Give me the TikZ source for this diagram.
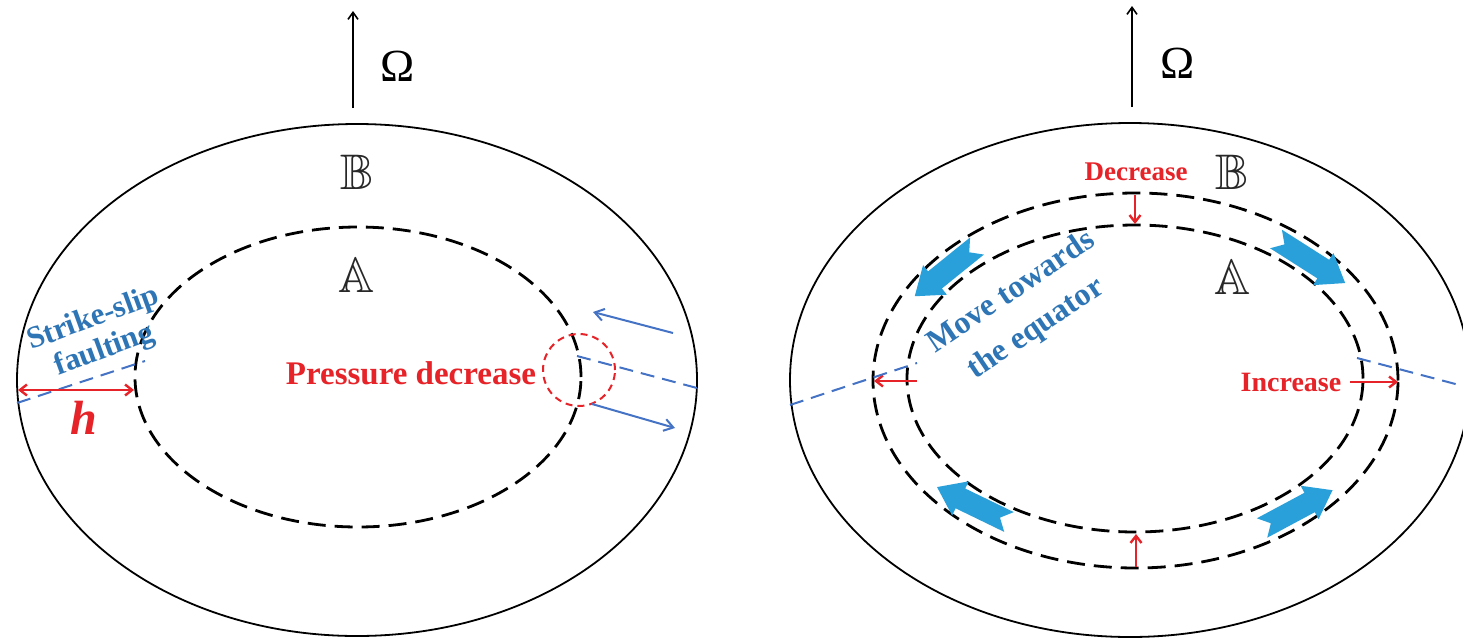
\documentclass[tikz,border=0pt]{standalone}
\usepackage{amssymb}
\usepackage{fontspec}
\setmainfont{Liberation Serif}
\usetikzlibrary{arrows.meta}

\definecolor{labelred}{RGB}{230,35,40}
\definecolor{labelblue}{RGB}{46,117,182}
\definecolor{lineblue}{RGB}{68,114,196}
\definecolor{bandblue}{RGB}{42,160,218}
\definecolor{lettergray}{RGB}{40,40,40}

% double-struck region letters
\newcommand{\regionletter}[1]{{\usefont{U}{msb}{m}{n}#1}}

% notched block arrow: tail point, direction angle, length
\newcommand{\bandarrow}[3]{%
  \fill[bandblue, shift={(#1)}, rotate=#2]
    (0,-11) -- (#3-26,-11) -- (#3-26,-19) -- (#3,0) -- (#3-26,19)
    -- (#3-26,11) -- (0,11) -- (10,0) -- cycle;}

\begin{document}
\begin{tikzpicture}[x=1pt,y=-1pt,
  shell/.style={line width=1.8pt},
  band/.style={line width=2.8pt, dash pattern=on 18pt off 9pt},
  fault/.style={lineblue, line width=2pt, dash pattern=on 14pt off 8pt},
  slip/.style={lineblue, line width=2pt, -{Straight Barb[length=9pt,width=12pt]}},
  redarrow/.style={labelred, line width=2.4pt, -{Straight Barb[length=7pt,width=11pt]}},
  axis/.style={line width=1.6pt, -{Straight Barb[length=7pt,width=10pt]}},
  redlabel/.style={text=labelred, font=\fontsize{#1}{#1}\selectfont\bfseries},
  bluelabel/.style={text=labelblue, align=center, inner sep=0pt},
  omega/.style={font=\fontsize{46}{46}\selectfont},
  region/.style={text=lettergray, font=\fontsize{50}{50}\selectfont}]
\useasboundingbox (0,0) rectangle (1463,640);

% ---------- left body ----------
\draw[shell] (357,380) ellipse [x radius=340pt, y radius=256pt];
\draw[band] (358,377) ellipse [x radius=223pt, y radius=150pt];

\coordinate (axL0) at (353,108);
\coordinate (axL1) at (353,11);
\draw[axis] (axL0) -- (axL1);
\node[omega] (omL) at (398,66) {Ω};

\node[region] (BL) at (357,172) {\regionletter{B}};
\node[region] (AL) at (357,275) {\regionletter{A}};

% strike-slip fault and width h
\coordinate (fl0) at (17,403);
\coordinate (fl1) at (145,361);
\draw[fault] (fl0) -- (fl1);
\coordinate (hL) at (18,390);
\coordinate (hR) at (134,390);
\draw[labelred, line width=2.4pt, {Straight Barb[length=7pt,width=11pt]}-{Straight Barb[length=7pt,width=11pt]}] (hL) -- (hR);
\node[text=labelred, font=\fontsize{48}{48}\selectfont\bfseries\itshape] (hlab) at (84,418) {h};
\node[bluelabel, rotate=20, font=\fontsize{31}{33}\selectfont\bfseries] (ss) at (99,335) {Strike-slip\\faulting};

% pressure decrease zone
\node[redlabel=33] (press) at (411,373) {Pressure decrease};
\draw[labelred, line width=2pt, dash pattern=on 7pt off 5pt] (579,370) circle [radius=36pt];
\coordinate (fr0) at (577,356);
\coordinate (fr1) at (697,388);
\draw[fault] (fr0) -- (fr1);
\coordinate (s1a) at (673,333);
\coordinate (s1b) at (593,312);
\coordinate (s2a) at (592,404);
\coordinate (s2b) at (675,428);
\draw[slip] (s1a) -- (s1b);
\draw[slip] (s2a) -- (s2b);

% ---------- right body ----------
\draw[shell] (1130,380) ellipse [x radius=340pt, y radius=257pt];
\draw[band] (1135.5,380.5) ellipse [x radius=262.5pt, y radius=187.5pt];
\draw[band] (1135,378.5) ellipse [x radius=228pt, y radius=153.5pt];

\coordinate (axR0) at (1132,107);
\coordinate (axR1) at (1132,6);
\draw[axis] (axR0) -- (axR1);
\node[omega] (omR) at (1178,63) {Ω};

\node[region] (BR) at (1232,172) {\regionletter{B}};
\node[region] (AR) at (1233,277) {\regionletter{A}};

% band thickness changes
\node[redlabel=27] (dec) at (1136,172) {Decrease};
\coordinate (d0) at (1135,195);
\coordinate (d1) at (1135,224);
\draw[redarrow] (d0) -- (d1);
\coordinate (u0) at (1136,567);
\coordinate (u1) at (1136,534);
\draw[redarrow] (u0) -- (u1);
\coordinate (w0) at (917,381);
\coordinate (w1) at (874,381);
\draw[redarrow] (w0) -- (w1);
\node[redlabel=28] (inc) at (1291,382) {Increase};
\coordinate (e0) at (1350,382);
\coordinate (e1) at (1398,382);
\draw[redarrow] (e0) -- (e1);

% fault traces
\coordinate (g0) at (790,405);
\coordinate (g1) at (917,363);
\draw[fault] (g0) -- (g1);
\coordinate (k0) at (1357,358);
\coordinate (k1) at (1463,386);
\draw[fault] (k0) -- (k1);

% flow within the band
\bandarrow{977,246}{218.9}{80}
\bandarrow{1276,239}{-32.5}{82}
\bandarrow{1009,522}{154.1}{80}
\bandarrow{1262,528}{28.2}{80}

\node[bluelabel, rotate=34, font=\fontsize{32}{44}\selectfont\bfseries] (mv) at (1024,311) {Move towards\\the equator};
\end{tikzpicture}
\end{document}
